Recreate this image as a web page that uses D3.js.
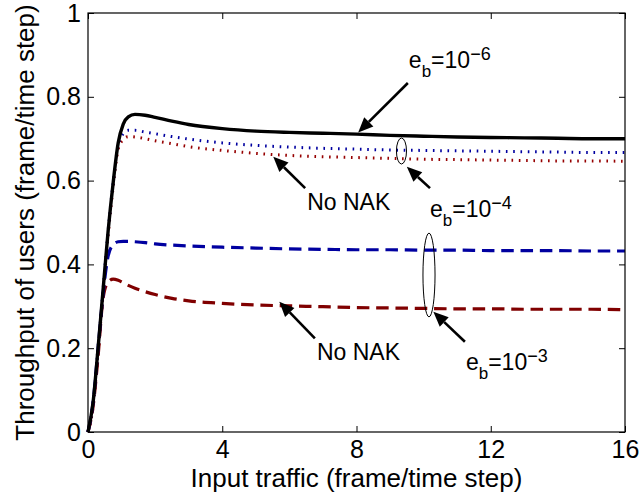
<!DOCTYPE html>
<html>
<head>
<meta charset="utf-8">
<script src="https://cdn.jsdelivr.net/npm/d3@7"></script>
<style>
  body { margin: 0; background: #fff; }
  svg { display: block; font-family: "Liberation Sans", Arial, Helvetica, sans-serif; }
</style>
</head>
<body>
<div id="chart"></div>
<script>
// Input traffic (frame/time step)
const traffic = [0, 0.15, 0.3, 0.45, 0.6, 0.75, 0.9, 1.05, 1.2, 1.4, 1.7, 2, 2.5, 3, 4, 5, 6, 7, 8, 9, 10, 11, 12, 13, 14, 15, 16];

// Throughput of users
const eb6Nak   = [0, 0.07, 0.2, 0.34, 0.48, 0.595, 0.69, 0.735, 0.752, 0.758, 0.756, 0.751, 0.742, 0.734, 0.724, 0.718, 0.715, 0.713, 0.711, 0.708, 0.706, 0.704, 0.703, 0.702, 0.701, 0.7, 0.7];
const eb4Nak   = [0, 0.07, 0.2, 0.34, 0.48, 0.595, 0.685, 0.712, 0.72, 0.72, 0.716, 0.712, 0.705, 0.699, 0.69, 0.684, 0.68, 0.677, 0.675, 0.673, 0.672, 0.671, 0.67, 0.669, 0.668, 0.667, 0.667];
const eb4NoNak = [0, 0.06, 0.19, 0.33, 0.47, 0.585, 0.675, 0.698, 0.705, 0.704, 0.7, 0.695, 0.688, 0.681, 0.672, 0.665, 0.66, 0.657, 0.655, 0.653, 0.651, 0.65, 0.649, 0.648, 0.647, 0.647, 0.646];
const eb3Nak   = [0, 0.07, 0.2, 0.33, 0.42, 0.447, 0.454, 0.455, 0.455, 0.454, 0.452, 0.449, 0.446, 0.444, 0.441, 0.439, 0.437, 0.436, 0.435, 0.435, 0.434, 0.434, 0.433, 0.433, 0.433, 0.432, 0.432];
const eb3NoNak = [0, 0.06, 0.18, 0.32, 0.358, 0.365, 0.362, 0.356, 0.35, 0.343, 0.335, 0.328, 0.319, 0.313, 0.307, 0.303, 0.301, 0.299, 0.297, 0.296, 0.295, 0.294, 0.294, 0.293, 0.293, 0.293, 0.292];

const xTicks = [0, 4, 8, 12, 16];
const yTicks = [0, 0.2, 0.4, 0.6, 0.8, 1];

// Annotation arrows (tail -> head), in data units
const arrowTails = [[9.53, 0.833], [6.47, 0.582], [10.19, 0.582], [11.23, 0.2155], [6.76, 0.2236]];
const arrowHeads = [[8.05, 0.715], [5.52, 0.657], [9.5, 0.633], [10.29, 0.287], [5.7, 0.311]];

// Ellipses grouping curves: centre x, centre y, half-width, half-height (data units)
const ellipses = [[9.34, 0.6706, 0.15, 0.031], [10.16, 0.3747, 0.18, 0.1]];

// e_b labels: x, y, mantissa, exponent
const ebLabels = [[9.56, 0.869, '10', '\u22126'], [10.19, 0.514, '10', '\u22124'], [11.26, 0.148, '10', '\u22123']];
const nakLabels = [[6.53, 0.53], [6.82, 0.172]];

const W = 640, H = 496;
const margin = { top: 13, right: 15, bottom: 64, left: 88 };
const width = W - margin.left - margin.right;
const height = H - margin.top - margin.bottom;

const svgRoot = d3.select('#chart')
    .append('svg')
    .attr('width', W)
    .attr('height', H);

svgRoot.append('rect').attr('width', W).attr('height', H).attr('fill', '#fff');

const svg = svgRoot.append('g')
    .attr('transform', `translate(${margin.left},${margin.top})`);

const x = d3.scaleLinear().domain([0, 16]).range([0, width]);
const y = d3.scaleLinear().domain([0, 1]).range([height, 0]);

// Axes with inward ticks
const tickLen = 6;
const bottomAxis = svg.append('g')
    .attr('transform', `translate(0,${height})`)
    .call(d3.axisBottom(x).tickValues(xTicks).tickFormat(d3.format('d')).tickSize(-tickLen).tickPadding(8));
const leftAxis = svg.append('g')
    .call(d3.axisLeft(y).tickValues(yTicks).tickFormat(d => d === 0 || d === 1 ? d : d3.format('.1f')(d)).tickSize(-tickLen).tickPadding(7));
svg.append('g')
    .call(d3.axisTop(x).tickValues(xTicks).tickFormat('').tickSize(-tickLen));
svg.append('g')
    .attr('transform', `translate(${width},0)`)
    .call(d3.axisRight(y).tickValues(yTicks).tickFormat('').tickSize(-tickLen));

svg.selectAll('.domain').remove();
svg.selectAll('.tick line').attr('stroke', '#000').attr('stroke-width', 1);
[bottomAxis, leftAxis].forEach(a => a.selectAll('text')
    .attr('fill', '#000')
    .style('font-size', '25px'));
bottomAxis.selectAll('text').attr('dy', '0.71em');

// Series
const series = [
    { values: eb4NoNak, color: '#960000', width: 3, dash: '1.6,5.7' },
    { values: eb4Nak,   color: '#0000a0', width: 3, dash: '1.6,5.7' },
    { values: eb3NoNak, color: '#800000', width: 3.2, dash: '12.5,6.8' },
    { values: eb3Nak,   color: '#0000a0', width: 3.2, dash: '12.5,6.8' },
    { values: eb6Nak,   color: '#000000', width: 3.4, dash: null }
];

const line = d3.line()
    .x((d, i) => x(traffic[i]))
    .y(d => y(d))
    .curve(d3.curveMonotoneX);

svg.selectAll('.series')
    .data(series)
    .enter()
    .append('path')
    .attr('class', 'series')
    .attr('d', d => line(d.values))
    .attr('fill', 'none')
    .attr('stroke', d => d.color)
    .attr('stroke-width', d => d.width)
    .attr('stroke-dasharray', d => d.dash);

// Plot box
svg.append('rect')
    .attr('width', width)
    .attr('height', height)
    .attr('fill', 'none')
    .attr('stroke', '#000')
    .attr('stroke-width', 1.2);

// Ellipses
svg.selectAll('.grp')
    .data(ellipses)
    .enter()
    .append('ellipse')
    .attr('cx', d => x(d[0]))
    .attr('cy', d => y(d[1]))
    .attr('rx', d => x(d[2]) - x(0))
    .attr('ry', d => y(0) - y(d[3]))
    .attr('fill', 'none')
    .attr('stroke', '#000')
    .attr('stroke-width', 1);

// Arrows
const headLen = 15, headHalf = 6.5;
arrowTails.forEach((t, i) => {
    const h = arrowHeads[i];
    const x0 = x(t[0]), y0 = y(t[1]), x1 = x(h[0]), y1 = y(h[1]);
    const ang = Math.atan2(y1 - y0, x1 - x0);
    const bx = x1 - headLen * Math.cos(ang), by = y1 - headLen * Math.sin(ang);
    svg.append('line')
        .attr('x1', x0).attr('y1', y0)
        .attr('x2', bx).attr('y2', by)
        .attr('stroke', '#000')
        .attr('stroke-width', 2.6);
    const px = -Math.sin(ang) * headHalf, py = Math.cos(ang) * headHalf;
    svg.append('polygon')
        .attr('points', [[x1, y1], [bx + px, by + py], [bx - px, by - py]].map(p => p.join(',')).join(' '))
        .attr('fill', '#000');
});

// e_b labels
ebLabels.forEach(d => {
    const t = svg.append('text')
        .attr('x', x(d[0]))
        .attr('y', y(d[1]))
        .attr('fill', '#000')
        .style('font-size', '23px');
    t.append('tspan').text('e');
    t.append('tspan').attr('dy', 9).style('font-size', '17px').text('b');
    t.append('tspan').attr('dy', -9).text('=' + d[2]);
    t.append('tspan').attr('dy', -8).style('font-size', '18px').text(d[3]);
});

// No NAK labels
svg.selectAll('.nak')
    .data(nakLabels)
    .enter()
    .append('text')
    .attr('x', d => x(d[0]))
    .attr('y', d => y(d[1]))
    .attr('fill', '#000')
    .style('font-size', '23px')
    .text('No NAK');

// Axis titles
svgRoot.append('text')
    .attr('x', margin.left + width / 2)
    .attr('y', 487)
    .attr('text-anchor', 'middle')
    .attr('fill', '#000')
    .style('font-size', '26px')
    .text('Input traffic (frame/time step)');

svgRoot.append('text')
    .attr('transform', `translate(34,${margin.top + height / 2}) rotate(-90)`)
    .attr('text-anchor', 'middle')
    .attr('fill', '#000')
    .style('font-size', '26px')
    .text('Throughput of users (frame/time step)');
</script>
</body>
</html>
